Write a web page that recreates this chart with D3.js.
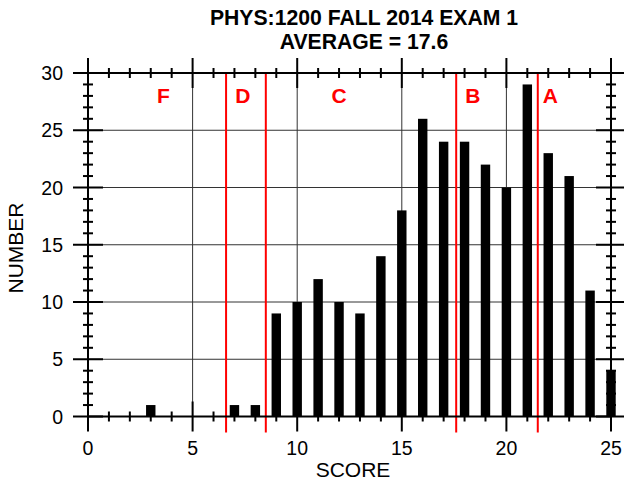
<!DOCTYPE html>
<html>
<head>
<meta charset="utf-8">
<script src="https://cdn.jsdelivr.net/npm/d3@7/dist/d3.min.js"></script>
<style>
  body { margin: 0; background: #fff; }
  text { font-family: "Liberation Sans", Arial, Helvetica, sans-serif; }
</style>
</head>
<body>
<svg id="chart" width="624" height="488"></svg>
<script>
// Exam score histogram: number of students at each score
const scores = [0, 1, 2, 3, 4, 5, 6, 7, 8, 9, 10, 11, 12, 13, 14, 15, 16, 17, 18, 19, 20, 21, 22, 23, 24, 25];
const counts = [0, 0, 0, 1, 0, 0, 0, 1, 1, 9, 10, 12, 10, 9, 14, 18, 26, 24, 24, 22, 20, 29, 23, 21, 11, 4];

// Letter-grade boundaries and the letters placed between them
const gradeCutoffs = [6.6, 8.5, 17.6, 21.5];
const gradeLetters = ["F", "D", "C", "B", "A"];
const gradeLetterX = [3.6, 7.4, 12.0, 18.4, 22.1];

const xTickValues = [0, 5, 10, 15, 20, 25];
const yTickValues = [0, 5, 10, 15, 20, 25, 30];

const titleLines = ["PHYS:1200 FALL 2014 EXAM 1", "AVERAGE = 17.6"];

const svg = d3.select("#chart");
const plotLeft = 88, plotRight = 611, plotTop = 73, plotBottom = 416.5;

const x = d3.scaleLinear().domain([0, 25]).range([plotLeft, plotRight]);
const y = d3.scaleLinear().domain([0, 30]).range([plotBottom, plotTop]);

const minorX = d3.range(0, 26, 1);
const minorY = d3.range(0, 31, 1);

// grid lines at the major ticks (interior only)
const grid = svg.append("g").attr("stroke", "#333").attr("stroke-width", 1);
grid.selectAll(".gx").data(xTickValues.filter(v => v > 0 && v < 25)).join("line")
  .attr("x1", d => x(d)).attr("x2", d => x(d)).attr("y1", plotTop).attr("y2", plotBottom);
grid.selectAll(".gy").data(yTickValues.filter(v => v > 0 && v < 30)).join("line")
  .attr("y1", d => y(d)).attr("y2", d => y(d)).attr("x1", plotLeft).attr("x2", plotRight);

// bars
const barW = x(0.45) - x(0);
svg.append("g").selectAll("rect").data(scores).join("rect")
  .attr("x", (d) => x(d) - barW / 2)
  .attr("width", barW)
  .attr("y", (d, i) => y(counts[i]))
  .attr("height", (d, i) => y(0) - y(counts[i]))
  .attr("fill", "#000");

// grade boundaries
svg.append("g").selectAll("line").data(gradeCutoffs).join("line")
  .attr("x1", d => x(d)).attr("x2", d => x(d))
  .attr("y1", plotTop).attr("y2", plotBottom + 16)
  .attr("stroke", "#ff0000").attr("stroke-width", 2);

svg.append("g").selectAll("text").data(gradeLetters).join("text")
  .attr("x", (d, i) => x(gradeLetterX[i]))
  .attr("y", 103)
  .attr("text-anchor", "middle")
  .attr("font-size", 21).attr("font-weight", "bold")
  .attr("fill", "#ff0000")
  .text(d => d);

// frame with crossing tick marks on all four sides
const ax = svg.append("g").attr("stroke", "#000").attr("stroke-width", 2);
ax.append("rect").attr("x", plotLeft).attr("y", plotTop)
  .attr("width", plotRight - plotLeft).attr("height", plotBottom - plotTop)
  .attr("fill", "none");

const tickLenX = v => (xTickValues.includes(v) ? 15 : 5);
const tickLenY = v => (yTickValues.includes(v) ? 15 : 5);

[plotBottom, plotTop].forEach(yy => {
  ax.append("g").selectAll("line").data(minorX).join("line")
    .attr("x1", d => x(d)).attr("x2", d => x(d))
    .attr("y1", d => yy - tickLenX(d)).attr("y2", d => yy + tickLenX(d));
});
[plotLeft, plotRight].forEach(xx => {
  ax.append("g").selectAll("line").data(minorY).join("line")
    .attr("y1", d => y(d)).attr("y2", d => y(d))
    .attr("x1", d => xx - tickLenY(d)).attr("x2", d => xx + tickLenY(d));
});

// tick labels
svg.append("g").selectAll("text").data(xTickValues).join("text")
  .attr("x", d => x(d)).attr("y", 455)
  .attr("text-anchor", "middle").attr("font-size", 19.5)
  .text(d => d);
svg.append("g").selectAll("text").data(yTickValues).join("text")
  .attr("x", 63).attr("y", d => y(d) + 7)
  .attr("text-anchor", "end").attr("font-size", 19.5)
  .text(d => d);

// axis titles
svg.append("text").attr("x", 353).attr("y", 477)
  .attr("text-anchor", "middle").attr("font-size", 21)
  .text("SCORE");
svg.append("text").attr("transform", "translate(23,248) rotate(-90)")
  .attr("text-anchor", "middle").attr("font-size", 21)
  .text("NUMBER");

// title
svg.append("g").selectAll("text").data(titleLines).join("text")
  .attr("x", 364).attr("y", (d, i) => 25 + i * 24)
  .attr("text-anchor", "middle").attr("font-size", 21.2).attr("font-weight", "bold")
  .text(d => d);
</script>
</body>
</html>
